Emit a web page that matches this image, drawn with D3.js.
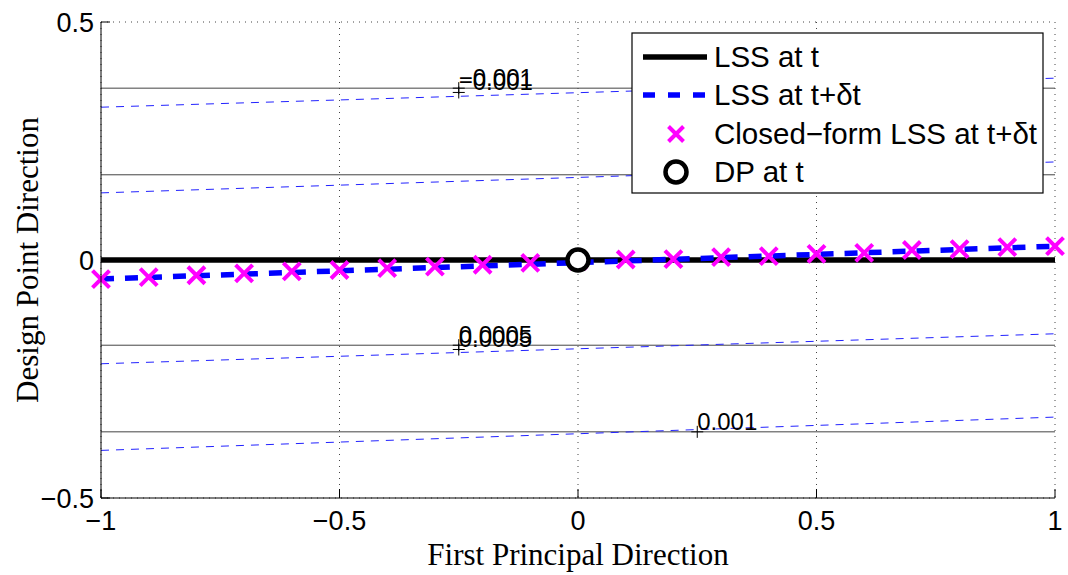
<!DOCTYPE html>
<html><head><meta charset="utf-8">
<script src="https://cdn.jsdelivr.net/npm/d3@7/dist/d3.min.js"></script>
<style>
html,body{margin:0;padding:0;background:#fff;}
svg{display:block;}
text{font-family:"Liberation Sans",Arial,Helvetica,sans-serif;}
</style></head>
<body>
<svg id="chart" width="1068" height="575"></svg>
<script>
// ---- data ----
const xTicks = [-1, -0.5, 0, 0.5, 1];
const yTicks = [0.5, 0, -0.5];
const sampleX = [-1,-0.9,-0.8,-0.7,-0.6,-0.5,-0.4,-0.3,-0.2,-0.1,0,0.1,0.2,0.3,0.4,0.5,0.6,0.7,0.8,0.9,1];
const closedForm = [-0.040,-0.036,-0.032,-0.028,-0.024,-0.021,-0.017,-0.014,-0.010,-0.006,-0.002,0.001,0.002,0.006,0.008,0.013,0.015,0.021,0.023,0.027,0.029];
const lssNowX = [-1, 1];
const lssNowY = [0, 0];
const lssNextX = [-1, 1];
const lssNextY = [-0.040, 0.029];
const contourNow = [0.361, 0.179, -0.179, -0.361];
const contourNextLeft = [0.321, 0.141, -0.218, -0.400];
const contourNextRight = [0.382, 0.206, -0.155, -0.330];
const labelTexts = ["\u22120.001", "\u22120.001", "0.0005", "0.0005", "0.001"];
const labelX = [-0.25, -0.25, -0.25, -0.25, 0.25];
const labelY = [0.361, 0.352, -0.179, -0.188, -0.361];
const dp = {x: 0, y: 0};
const legendLabels = ["LSS at t", "LSS at t+\u03b4t", "Closed\u2212form LSS at t+\u03b4t", "DP at t"];

// ---- layout ----
const svg = d3.select("#chart");
const L = 101, R = 1055, T = 22, B = 498;
const x = d3.scaleLinear().domain([-1, 1]).range([L, R]);
const y = d3.scaleLinear().domain([-0.5, 0.5]).range([B, T]);

// grid
const g = svg.append("g");
g.selectAll(".gx").data(xTicks).enter().append("line")
  .attr("x1", d => x(d)).attr("x2", d => x(d)).attr("y1", T).attr("y2", B)
  .attr("stroke", "#444").attr("stroke-width", 1).attr("stroke-dasharray", "1,5");
g.selectAll(".gy").data(yTicks).enter().append("line")
  .attr("x1", L).attr("x2", R).attr("y1", d => y(d)).attr("y2", d => y(d))
  .attr("stroke", "#444").attr("stroke-width", 1).attr("stroke-dasharray", "1,5");

// contour lines at t
g.selectAll(".cn").data(contourNow).enter().append("line")
  .attr("x1", x(-1)).attr("x2", x(1)).attr("y1", d => y(d)).attr("y2", d => y(d))
  .attr("stroke", "#444").attr("stroke-width", 1);
// contour lines at t+dt
g.selectAll(".cd").data(contourNextLeft).enter().append("line")
  .attr("x1", x(-1)).attr("x2", x(1)).attr("y1", d => y(d)).attr("y2", (d, i) => y(contourNextRight[i]))
  .attr("stroke", "#2222ff").attr("stroke-width", 1).attr("stroke-dasharray", "8,7");

// contour labels
labelTexts.forEach((t, i) => {
  const px = x(labelX[i]), py = y(labelY[i]);
  g.append("path").attr("d", `M${px-6},${py}H${px+6}M${px},${py-6}V${py+6}`)
    .attr("stroke", "#000").attr("stroke-width", 1);
  g.append("text").attr("x", px).attr("y", py - 2).attr("font-size", 24).text(t);
});

// main lines
const line = d3.line().x(d => x(d[0])).y(d => y(d[1]));
g.append("path").datum(lssNowX.map((v, i) => [v, lssNowY[i]])).attr("d", line)
  .attr("fill", "none").attr("stroke", "#000").attr("stroke-width", 5.5);
g.append("path").datum(lssNextX.map((v, i) => [v, lssNextY[i]])).attr("d", line)
  .attr("fill", "none").attr("stroke", "#0000ff").attr("stroke-width", 5.5).attr("stroke-dasharray", "13,11");

// closed-form markers
const xm = (s) => `M${-s},${-s}L${s},${s}M${-s},${s}L${s},${-s}`;
g.selectAll(".xm").data(sampleX).enter().append("path")
  .attr("transform", (d, i) => `translate(${x(d)},${y(closedForm[i])})`)
  .attr("d", xm(8.5)).attr("stroke", "#ff00ff").attr("stroke-width", 4).attr("fill", "none");

// DP circle
g.append("circle").attr("cx", x(dp.x)).attr("cy", y(dp.y)).attr("r", 10.5)
  .attr("fill", "#fff").attr("stroke", "#000").attr("stroke-width", 4.5);

// axes
g.append("line").attr("x1", L).attr("x2", L).attr("y1", T).attr("y2", B).attr("stroke", "#000");
g.append("line").attr("x1", L).attr("x2", R).attr("y1", B).attr("y2", B).attr("stroke", "#000");
g.selectAll(".tx").data(xTicks).enter().append("line")
  .attr("x1", d => x(d)).attr("x2", d => x(d)).attr("y1", B).attr("y2", B - 9).attr("stroke", "#000");
g.selectAll(".ty").data(yTicks).enter().append("line")
  .attr("x1", L).attr("x2", L + 9).attr("y1", d => y(d)).attr("y2", d => y(d)).attr("stroke", "#000");
const fmt = d => (d < 0 ? "\u2212" : "") + Math.abs(d);
g.selectAll(".lx").data(xTicks).enter().append("text")
  .attr("x", d => x(d)).attr("y", 530).attr("text-anchor", "middle").attr("font-size", 27).text(fmt);
g.selectAll(".ly").data(yTicks).enter().append("text")
  .attr("x", 94).attr("y", d => y(d) + 10).attr("text-anchor", "end").attr("font-size", 27).text(fmt);

// axis titles
svg.append("text").attr("x", (L + R) / 2).attr("y", 565).attr("text-anchor", "middle")
  .attr("font-size", 31).style("font-family", "'Liberation Serif','Times New Roman',serif")
  .text("First Principal Direction");
svg.append("text").attr("transform", `translate(38,${(T + B) / 2}) rotate(-90)`).attr("text-anchor", "middle")
  .attr("font-size", 31).style("font-family", "'Liberation Serif','Times New Roman',serif")
  .text("Design Point Direction");

// legend
const lg = svg.append("g");
lg.append("rect").attr("x", 632).attr("y", 33).attr("width", 411).attr("height", 160)
  .attr("fill", "#fff").attr("stroke", "#000").attr("stroke-width", 1.2);
const rowY = [57, 95, 134, 172];
lg.append("line").attr("x1", 643).attr("x2", 707).attr("y1", rowY[0]).attr("y2", rowY[0])
  .attr("stroke", "#000").attr("stroke-width", 5.5);
lg.append("line").attr("x1", 643).attr("x2", 707).attr("y1", rowY[1]).attr("y2", rowY[1])
  .attr("stroke", "#0000ff").attr("stroke-width", 5.5).attr("stroke-dasharray", "12,13");
lg.append("path").attr("transform", `translate(676,${rowY[2]})`).attr("d", xm(7.5))
  .attr("stroke", "#ff00ff").attr("stroke-width", 4);
lg.append("circle").attr("cx", 676).attr("cy", rowY[3]).attr("r", 10.5)
  .attr("fill", "#fff").attr("stroke", "#000").attr("stroke-width", 4.5);
lg.selectAll(".lt").data(legendLabels).enter().append("text")
  .attr("x", 714).attr("y", (d, i) => rowY[i] + 10).attr("font-size", 29.5).text(d => d);
</script>
</body></html>
